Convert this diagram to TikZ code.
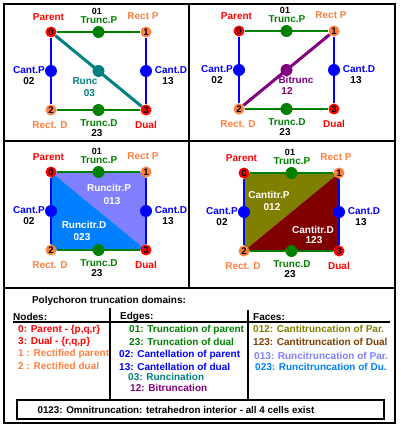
\documentclass[tikz,border=0pt]{standalone}
\usepackage{fontspec}
\setmainfont{Liberation Sans}
\pgfdeclarelayer{faces}
\pgfdeclarelayer{edges}
\pgfsetlayers{faces,edges,main}
\definecolor{redv}{RGB}{255,0,0}
\definecolor{orangev}{RGB}{255,128,64}
\definecolor{greenv}{RGB}{0,128,0}
\definecolor{bluev}{RGB}{0,0,255}
\definecolor{tealv}{RGB}{0,128,128}
\definecolor{purplev}{RGB}{128,0,128}
\definecolor{olivev}{RGB}{128,128,0}
\definecolor{maroonv}{RGB}{128,0,0}
\definecolor{brownv}{RGB}{128,64,0}
\definecolor{lavv}{RGB}{128,128,255}
\definecolor{skyv}{RGB}{0,128,255}
\tikzset{
  vtx/.style={circle,minimum size=11pt,inner sep=0pt,font=\fontsize{9.5}{9.5}\selectfont\bfseries},
  mid/.style={circle,minimum size=12pt,inner sep=0pt},
  edge/.style={line width=2pt},
  diag/.style={line width=3pt},
  lbl/.style={inner sep=0pt,font=\fontsize{10}{10}\selectfont\bfseries},
  frame/.style={line width=2pt},
}
% square of the four nodes with its edges and labels
\newcommand{\sqframe}[1]{%
  \node[vtx,fill=redv] (#1n0) at (51,32) {0};
  \node[vtx,fill=orangev] (#1n1) at (146,32) {1};
  \node[vtx,fill=orangev] (#1n2) at (51,110) {2};
  \node[vtx,fill=redv] (#1n3) at (146,110) {3};
  \node[mid,fill=greenv] (#1t) at (98.5,32) {};
  \node[mid,fill=greenv] (#1b) at (98.5,110) {};
  \node[mid,fill=bluev] (#1l) at (51,71) {};
  \node[mid,fill=bluev] (#1r) at (146,71) {};
  \begin{pgfonlayer}{edges}
    \draw[edge,greenv] (#1n0) -- (#1n1);
    \draw[edge,greenv] (#1n2) -- (#1n3);
    \draw[edge,bluev] (#1n0) -- (#1n2);
    \draw[edge,bluev] (#1n1) -- (#1n3);
  \end{pgfonlayer}
  \node[lbl,text=redv] (#1parent) at (48.5,17) {Parent};
  \node[lbl,font=\fontsize{9}{9}\selectfont\bfseries] (#1k01) at (97,11.5) {01};
  \node[lbl,text=greenv] (#1truncp) at (99,20) {Trunc.P};
  \node[lbl,text=orangev] (#1rectp) at (143,16.5) {Rect P};
  \node[lbl,text=bluev] (#1cantp) at (29,70) {Cant.P};
  \node[lbl] (#1k02) at (29,81) {02};
  \node[lbl,text=bluev] (#1cantd) at (171,70) {Cant.D};
  \node[lbl] (#1k13) at (168,81) {13};
  \node[lbl,text=orangev] (#1rectd) at (50,125) {Rect. D};
  \node[lbl,text=greenv] (#1truncd) at (99,123) {Trunc.D};
  \node[lbl] (#1k23) at (97,133) {23};
  \node[lbl,text=redv] (#1dual) at (146,125) {Dual};
}
\begin{document}
\begin{tikzpicture}[x=1pt,y=-1pt]
\useasboundingbox (0,0) rectangle (400,428);
\begin{pgfonlayer}{faces}
  \fill[white] (0,0) rectangle (400,428);
\end{pgfonlayer}
\draw[frame] (4,4) rectangle (395,423);
\draw[frame] (189,4) -- (189,288);
\draw[frame] (4,141) -- (395,141);
\draw[frame] (4,288) -- (395,288);

% runcination
\begin{scope}
  \sqframe{A}
  \node[mid,fill=tealv] (Am) at (98.5,71) {};
  \begin{pgfonlayer}{edges}
    \draw[diag,tealv] (An0) -- (An3);
  \end{pgfonlayer}
  \node[lbl,text=tealv] (Arunc) at (85,81) {Runc};
  \node[lbl,text=tealv] (Ak03) at (89.5,93) {03};
\end{scope}

% bitruncation
\begin{scope}[shift={(188,-1)}]
  \sqframe{B}
  \node[mid,fill=purplev] (Bm) at (98.5,71) {};
  \begin{pgfonlayer}{edges}
    \draw[diag,purplev] (Bn1) -- (Bn2);
  \end{pgfonlayer}
  \node[lbl,text=purplev] (Bbitrunc) at (108,81) {Bitrunc};
  \node[lbl,text=purplev] (Bk12) at (99,92) {12};
\end{scope}

% runcitruncation
\begin{scope}[shift={(0,140)}]
  \sqframe{C}
  \begin{pgfonlayer}{faces}
    \fill[lavv] (Cn0.center) -- (Cn1.center) -- (Cn3.center) -- cycle;
    \fill[skyv] (Cn0.center) -- (Cn2.center) -- (Cn3.center) -- cycle;
  \end{pgfonlayer}
  \node[lbl,text=white] (Crp) at (109,48) {Runcitr.P};
  \node[lbl,text=white] (Ck013) at (112,61) {013};
  \node[lbl,text=white] (Crd) at (84,85) {Runcitr.D};
  \node[lbl,text=white] (Ck023) at (82,97) {023};
\end{scope}

% cantitruncation
\begin{scope}[shift={(193,141)}]
  \sqframe{D}
  \begin{pgfonlayer}{faces}
    \fill[olivev] (Dn0.center) -- (Dn1.center) -- (Dn2.center) -- cycle;
    \fill[maroonv] (Dn1.center) -- (Dn2.center) -- (Dn3.center) -- cycle;
  \end{pgfonlayer}
  \node[lbl,text=white] (Dcp) at (76,54) {Cantitr.P};
  \node[lbl,text=white] (Dk012) at (79,66) {012};
  \node[lbl,text=white] (Dcd) at (120,89) {Cantitr.D};
  \node[lbl,text=white] (Dk123) at (121,99) {123};
\end{scope}

% legend
\node[lbl] (title) at (109,301) {Polychoron truncation domains:};
\node[lbl,anchor=west] (nodes) at (13,317) {Nodes:};
\node[lbl,anchor=west] (edges) at (120,317) {Edges:};
\node[lbl,anchor=west] (faces) at (253,317) {Faces:};
\draw[line width=1.5pt] (13,322) -- (390,322);
\draw[line width=1.5pt] (110,308) -- (110,400);
\draw[line width=1.5pt] (248,310) -- (248,400);

\node[lbl,anchor=west,text=redv] (l0) at (18,330) {0: Parent - \{p,q,r\}};
\node[lbl,anchor=west,text=redv] (l3) at (18,342) {3: Dual - \{r,q,p\}};
\node[lbl,anchor=west,text=orangev] (l1) at (18,354) {1 : Rectified parent};
\node[lbl,anchor=west,text=orangev] (l2) at (18,366) {2 : Rectified dual};

\node[lbl,anchor=west,text=greenv] (l01) at (129,330) {01: Truncation of parent};
\node[lbl,anchor=west,text=greenv] (l23) at (129,342) {23: Truncation of dual};
\node[lbl,anchor=west,text=bluev] (l02) at (119,355) {02: Cantellation of parent};
\node[lbl,anchor=west,text=bluev] (l13) at (119,367) {13: Cantellation of dual};
\node[lbl,anchor=west,text=tealv] (l03) at (128,377) {03: Runcination};
\node[lbl,anchor=west,text=purplev] (l12) at (130,388) {12: Bitruncation};

\node[lbl,anchor=west,text=olivev] (l012) at (253,329) {012: Cantitruncation of Par.};
\node[lbl,anchor=west,text=brownv] (l123) at (253,342) {123: Cantitruncation of Dual};
\node[lbl,anchor=west,text=lavv] (l013) at (254,356) {013: Runcitruncation of Par.};
\node[lbl,anchor=west,text=skyv] (l023) at (255,367) {023: Runcitruncation of Du.};

\draw[line width=1.5pt] (17,400) rectangle (384,419);
\node[lbl,font=\fontsize{9.8}{10}\selectfont\bfseries] (omni) at (176,409.5) {0123: Omnitruncation: tetrahedron interior - all 4 cells exist};
\end{tikzpicture}
\end{document}
